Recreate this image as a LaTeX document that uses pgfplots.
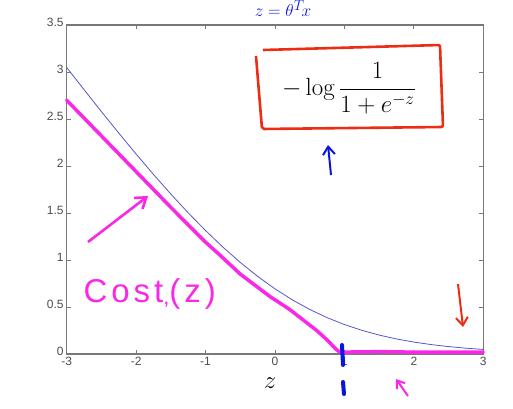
\documentclass[border=0pt]{standalone}
\usepackage[no-math]{fontspec}
\setmainfont{Liberation Sans}
\usepackage{pgfplots}
\pgfplotsset{compat=1.18}
\usetikzlibrary{arrows.meta}
\definecolor{curveblue}{RGB}{85,85,205}
\definecolor{penmag}{RGB}{250,40,230}
\definecolor{penred}{RGB}{235,45,20}
\definecolor{penblue}{RGB}{10,20,225}
\definecolor{axgray}{RGB}{120,120,120}
\begin{document}
\begin{tikzpicture}
\begin{axis}[
  at={(66.7pt,54pt)}, anchor=south west,
  scale only axis, width=416.6pt, height=329pt,
  xmin=-3, xmax=3, ymin=0, ymax=3.5,
  xtick={-3,-2,-1,0,1,2,3},
  ytick={0,0.5,1,1.5,2,2.5,3,3.5},
  tick align=inside,
  major tick length=4pt,
  axis line style={axgray, line width=1.3pt},
  every tick/.style={axgray, line width=0.8pt},
  tick label style={font=\fontsize{12}{14}\selectfont, text=black!70},
  /pgf/number format/assume math mode=true,
  yticklabel style={xshift=0.5pt, yshift=3pt},
  xticklabel style={yshift=0pt},
  clip=false,
]
\addplot[curveblue, line width=0.8pt] coordinates {
(-3,3.0486) (-2.75,2.8120) (-2.5,2.5789) (-2.25,2.3503) (-2,2.1269)
(-1.75,1.9102) (-1.5,1.7014) (-1.25,1.5019) (-1,1.3133) (-0.75,1.1369)
(-0.5,0.9741) (-0.25,0.8259) (0,0.6931) (0.25,0.5759) (0.5,0.4741)
(0.75,0.3869) (1,0.3133) (1.25,0.2519) (1.5,0.2014) (1.75,0.1602)
(2,0.1269) (2.25,0.1002) (2.5,0.0789) (2.75,0.0620) (3,0.0486)
};
\addplot[penmag, line width=3.5pt, line join=round, line cap=round] coordinates {
(-3,2.70) (-2.5,2.32) (-2,1.94) (-1.5,1.56) (-1,1.19) (-0.79,1.05)
(-0.5,0.85) (-0.07,0.61) (0.2,0.48) (0.41,0.36) (0.6,0.25) (0.75,0.15)
(0.88,0.05) (0.95,0.01)
};
\addplot[penmag, line width=3.5pt, line cap=round] coordinates {
(0.95,0.02) (1.5,0.025) (2,0.02) (2.5,0.02) (3,0.02)
};
\end{axis}
\begin{scope}[x=1pt, y=-1pt, shift={(0pt,408pt)}]
  % formula box
  \draw[penred, line width=2.6pt, line join=round, rounded corners=2pt]
    (263,50) -- (440,45) -- (443,127) -- (262,129) -- (256,56);
  \node at (349,88) {\fontsize{26}{30}\selectfont$\displaystyle -\log\frac{1}{1+e^{-z}}$};
  % top label
  \node[penblue, anchor=base] at (283,17) {\fontsize{19}{22}\selectfont$z=\theta^T\!x$};
  % arrows
  \draw[penblue, line width=2pt, -{Straight Barb[length=8pt,width=12pt]}] (331,175) -- (328,145);
  \draw[penmag, line width=2.6pt, -{Straight Barb[length=10pt,width=14pt]}] (88,242) -- (148,196);
  \draw[penmag, line width=2pt, -{Straight Barb[length=7pt,width=10pt]}] (408,396) -- (396,379);
  \draw[penred, line width=2pt, -{Straight Barb[length=8pt,width=12pt]}] (458,284) -- (463,327);
  % dashed marker at z=1
  \draw[penblue, line width=4pt, line cap=round] (342,345) -- (343,365);
  \draw[penblue, line width=4pt, line cap=round] (343,382) -- (344,394);
  % Cost_1(z)
  \node[penmag, anchor=base west] at (80,302) {\fontsize{33}{36}\selectfont\addfontfeature{LetterSpace=12}Cost\raisebox{-2pt}{\fontsize{22}{24}\selectfont ,}(z)};
  % x label
  \node at (270,383) {\fontsize{30}{34}\selectfont$z$};
  \pgfresetboundingbox
  \path[use as bounding box] (0,0) rectangle (513,408);
\end{scope}
\end{tikzpicture}
\end{document}
